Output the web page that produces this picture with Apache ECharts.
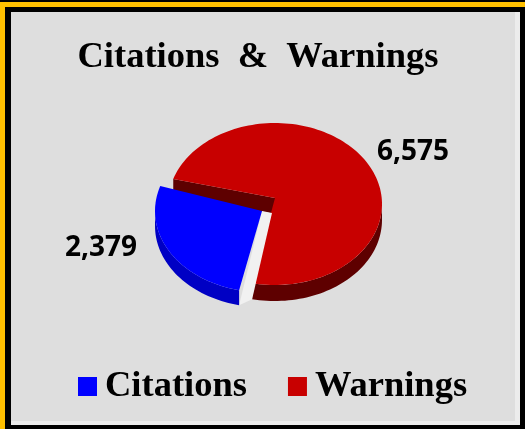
<!DOCTYPE html>
<html>
<head>
<meta charset="utf-8">
<style>
  html, body { margin: 0; padding: 0; background: #000; }
  #chart { width: 525px; height: 429px; }
</style>
<script src="https://cdn.jsdelivr.net/npm/echarts@6/dist/echarts.min.js"></script>
</head>
<body>
<div id="chart"></div>
<script>
const categories = ["Citations", "Warnings"];
const citationValues = [2379];
const warningValues = [6575];
const valueTotal = citationValues[0] + warningValues[0];

// fake 3D pie, squashed ellipse with a side wall
const CX = 275, CY = 204, RX = 107, RY = 81;
const APEX_LIFT = 6;
const START_ANGLE = 288;
const CITATION_SHIFT = [-13, 7];

const serifFont = '"Liberation Serif", serif';
const labelFont = '"Open Sans", sans-serif';

function rimPoint(deg, dx, dy) {
  const a = (deg * Math.PI) / 180;
  return [CX + dx + RX * Math.sin(a), CY + dy - RY * Math.cos(a)];
}

function arcPoints(from, to, dx, dy) {
  const pts = [];
  const steps = Math.max(2, Math.ceil(Math.abs(to - from) / 2));
  for (let i = 0; i <= steps; i++) {
    pts.push(rimPoint(from + ((to - from) * i) / steps, dx, dy));
  }
  return pts;
}

function poly(points, fill) {
  return { type: "polygon", shape: { points }, style: { fill } };
}

function valueText(x, y, value) {
  return {
    type: "text",
    style: {
      x, y,
      text: value.toLocaleString("en-US"),
      font: "bold 28px " + labelFont,
      fill: "#000",
      align: "center",
      verticalAlign: "middle",
    },
  };
}

function renderWarnings(params, api) {
  const sweep = (api.value(0) / valueTotal) * 360;
  const from = START_ANGLE;
  const to = from + sweep;
  const depth = 16;
  const apex = [CX, CY - APEX_LIFT];
  const corner = rimPoint(from, 0, 0);
  // outer wall only shows on the lower right
  const wallTop = arcPoints(450, to, 0, 0);
  const wallBottom = arcPoints(to, 450, 0, depth);
  return {
    type: "group",
    children: [
      poly(wallTop.concat(wallBottom), "#5e0000"),
      poly([corner, apex, [apex[0], apex[1] + depth], [corner[0], corner[1] + depth]], "#5e0000"),
      poly([apex].concat(arcPoints(from, to, 0, 0)), "#c80000"),
      valueText(413, 152, api.value(0)),
    ],
  };
}

function renderCitations(params, api) {
  const sweep = (api.value(0) / valueTotal) * 360;
  const to = START_ANGLE;
  const from = to - sweep;
  const depth = 15;
  const [dx, dy] = CITATION_SHIFT;
  const apex = [CX + dx, CY + dy];
  const wallTop = arcPoints(from, 270, dx, dy);
  const wallBottom = arcPoints(270, from, dx, dy + depth);
  const rimStart = rimPoint(from, dx, dy);
  const redEdge = rimPoint(from, 0, 16);
  return {
    type: "group",
    children: [
      // pale sliver in the gap between the slices
      poly([apex, [CX - 3, CY + 9], redEdge, [rimStart[0], rimStart[1] + depth]], "#f1f1f1"),
      poly(wallTop.concat(wallBottom), "#0000c4"),
      poly([apex].concat(arcPoints(from, to, dx, dy)), "#0000ff"),
      valueText(101, 248, api.value(0)),
    ],
  };
}

const chart = echarts.init(document.getElementById("chart"), null, { renderer: "canvas" });

chart.setOption({
  animation: false,
  backgroundColor: "#000",
  graphic: [
    { type: "rect", z: -10, shape: { x: 0, y: 2, width: 525, height: 5 }, style: { fill: "#ffc000" } },
    { type: "rect", z: -10, shape: { x: 0, y: 2, width: 5, height: 427 }, style: { fill: "#ffc000" } },
    { type: "rect", z: -9, shape: { x: 11, y: 12, width: 509, height: 413 }, style: { fill: "#ececec" } },
    { type: "rect", z: -8, shape: { x: 11, y: 12, width: 504, height: 409 }, style: { fill: "#dedede" } },
  ],
  title: {
    text: "Citations  &  Warnings",
    left: 253,
    top: 34,
    textAlign: "center",
    textStyle: { fontFamily: serifFont, fontWeight: "bold", fontSize: 36.5, color: "#000" },
  },
  legend: {
    data: categories,
    left: 73,
    top: 363,
    icon: "rect",
    itemWidth: 19,
    itemHeight: 19,
    itemGap: 41,
    textStyle: { fontFamily: serifFont, fontWeight: "bold", fontSize: 36.5, color: "#000", padding: [0, 0, 0, 3] },
    selectedMode: false,
  },
  series: [
    {
      type: "custom",
      name: categories[1],
      coordinateSystem: "none",
      itemStyle: { color: "#c80000" },
      renderItem: renderWarnings,
      data: warningValues,
    },
    {
      type: "custom",
      name: categories[0],
      coordinateSystem: "none",
      itemStyle: { color: "#0000ff" },
      renderItem: renderCitations,
      data: citationValues,
    },
  ],
});
</script>
</body>
</html>
